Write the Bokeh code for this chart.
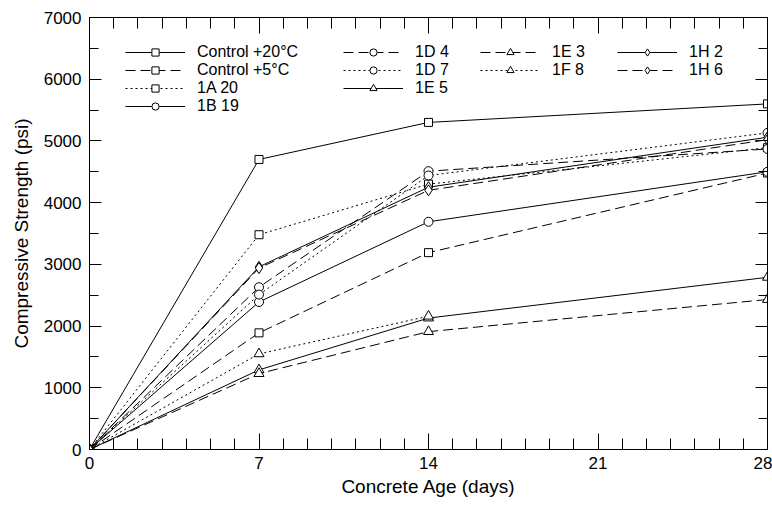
from bokeh.plotting import figure
from bokeh.models import (Range1d, LinearAxis, FixedTicker, SingleIntervalTicker, Legend,
                          LegendItem, CustomJSTickFormatter)
from bokeh.embed import file_html
from bokeh.resources import INLINE

# ---- data ----
days_all = [0, 7, 14, 28]
days_short = [0, 7, 14]

ctrl20 = [0, 4700, 5300, 5600]
ctrl5 = [0, 1890, 3190, 4480]
s1a20 = [0, 3480, 4300, 4890]
s1b19 = [0, 2390, 3690, 4500]
s1d4 = [0, 2630, 4510, 4870]
s1d7 = [0, 2510, 4440, 5130]
s1e5 = [0, 1290, 2130, 2790]
s1e3 = [0, 1230, 1910, 2430]
s1f8 = [0, 1550, 2160]
s1h2 = [0, 2960, 4250, 5060]
s1h6 = [0, 2940, 4200, 5020]

x_ticks = [0, 7, 14, 21, 28]

FONT = "Liberation Sans"

FW, FH = 678, 432
BT, BL = 17, 89
p = figure(frame_width=FW, frame_height=FH, output_backend="svg", toolbar_location=None,
           x_range=Range1d(0, 28), y_range=Range1d(0, 7000),
           min_border_left=BL, min_border_right=5, min_border_top=BT, min_border_bottom=59)
p.grid.visible = False
p.outline_line_color = "black"

SOLID, DASH, DOT = "solid", "10 5", "2 3"

series = [
    ("Control +20\u00b0C", days_all, ctrl20, SOLID, "square"),
    ("Control +5\u00b0C", days_all, ctrl5, DASH, "square"),
    ("1A 20", days_all, s1a20, DOT, "square"),
    ("1B 19", days_all, s1b19, SOLID, "circle"),
    ("1D 4", days_all, s1d4, DASH, "circle"),
    ("1D 7", days_all, s1d7, DOT, "circle"),
    ("1E 5", days_all, s1e5, SOLID, "triangle"),
    ("1E 3", days_all, s1e3, DASH, "triangle"),
    ("1F 8", days_short, s1f8, DOT, "triangle"),
    ("1H 2", days_all, s1h2, SOLID, "diamond"),
    ("1H 6", days_all, s1h6, DASH, "diamond"),
]
sizes = {"square": 8, "circle": 9, "triangle": 10, "diamond": 11}

items = {}
for name, xs, ys, dash, marker in series:
    l = p.line(xs, ys, line_color="black", line_width=1, line_dash=dash)
    s = p.scatter(xs, ys, marker=marker, size=sizes[marker], fill_color="white",
                  line_color="black", line_width=1)
    items[name] = LegendItem(label=name, renderers=[l, s])

# legend laid out as 4 columns, one single-item legend per entry
BOX_H = 22
ROW1 = 52      # centre of first row, px from top of page
ROW_STEP = 18
cols = [
    (["Control +20\u00b0C", "Control +5\u00b0C", "1A 20", "1B 19"], 36),
    (["1D 4", "1D 7", "1E 5"], 254),
    (["1E 3", "1F 8"], 391),
    (["1H 2", "1H 6"], 528),
]
for names, xloc in cols:
    for i, name in enumerate(names):
        yc = ROW1 + ROW_STEP * i
        loc_y = (BT + FH - yc) - BOX_H / 2
        leg = Legend(items=[items[name]], location=(xloc, loc_y),
                     orientation="vertical", glyph_width=60, glyph_height=18,
                     label_height=BOX_H, label_standoff=12, spacing=0, padding=0, margin=0,
                     label_text_font=FONT, label_text_font_size="16px",
                     label_text_color="black",
                     background_fill_alpha=0, border_line_color=None)
        p.add_layout(leg, "center")

def style(ax, ticker, major_in, minor_in, labels=True):
    ax.ticker = ticker
    ax.major_tick_in = major_in
    ax.major_tick_out = 0
    ax.minor_tick_in = minor_in
    ax.minor_tick_out = 0
    ax.axis_line_color = "black"
    ax.major_tick_line_color = "black"
    ax.minor_tick_line_color = "black"
    if labels:
        ax.major_label_text_font = FONT
        ax.major_label_text_font_size = "17px"
        ax.major_label_text_color = "black"
        ax.axis_label_text_font = FONT
        ax.axis_label_text_font_size = "19px"
        ax.axis_label_text_font_style = "normal"
        ax.axis_label_text_color = "black"
    else:
        ax.formatter = CustomJSTickFormatter(code="return ''")
        ax.major_label_standoff = 0

style(p.xaxis[0], FixedTicker(ticks=x_ticks, minor_ticks=list(range(29))), 16, 11)
style(p.yaxis[0], SingleIntervalTicker(interval=1000, num_minor_ticks=2), 12, 9)
p.xaxis[0].axis_label = "Concrete Age (days)"
p.yaxis[0].axis_label = "Compressive Strength (psi)"
p.xaxis[0].major_label_standoff = 7
p.yaxis[0].major_label_standoff = 8
p.xaxis[0].axis_label_standoff = 4
p.yaxis[0].axis_label_standoff = 9

top = LinearAxis()
style(top, FixedTicker(ticks=x_ticks, minor_ticks=list(range(29))), 16, 11, labels=False)
p.add_layout(top, "above")
right = LinearAxis()
style(right, SingleIntervalTicker(interval=1000, num_minor_ticks=2), 12, 9, labels=False)
p.add_layout(right, "right")

open("out.html", "w").write(file_html(p, INLINE))
